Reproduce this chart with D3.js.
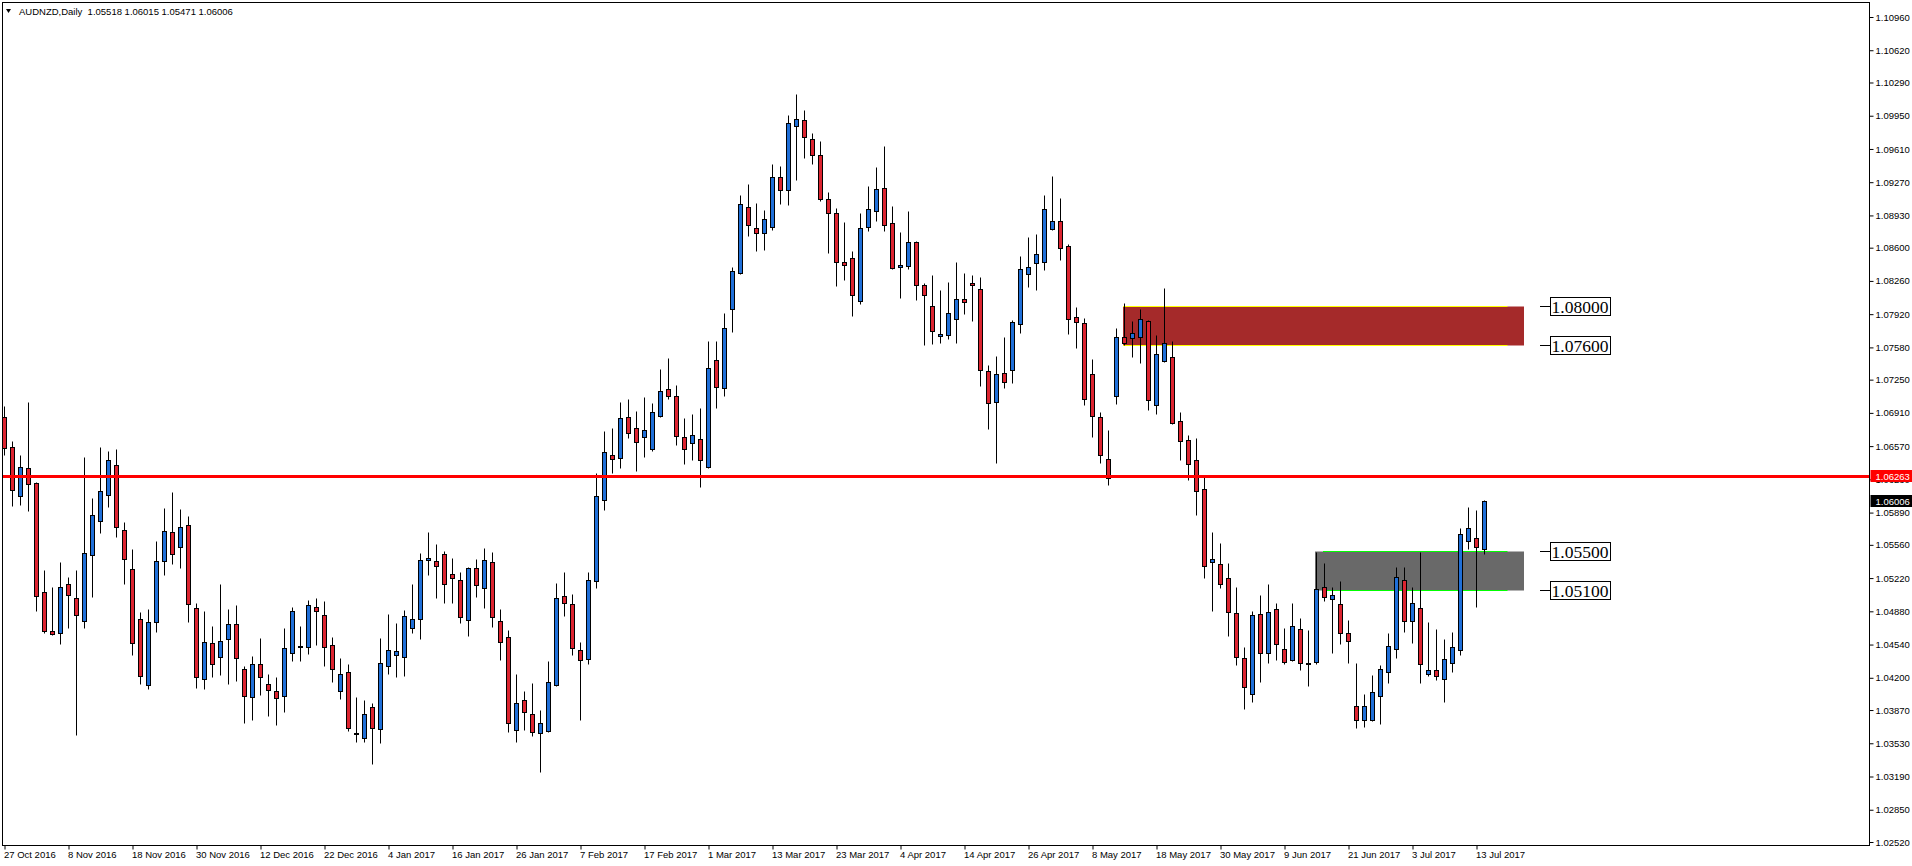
<!DOCTYPE html>
<html>
<head>
<meta charset="utf-8">
<title>AUDNZD Daily</title>
<script src="https://cdnjs.cloudflare.com/ajax/libs/d3/7.8.5/d3.min.js"></script>
<style>
  html, body { margin: 0; padding: 0; background: #fff; }
  svg { display: block; }
  text { font-family: "Liberation Sans", Arial, sans-serif; }
</style>
</head>
<body>
<svg id="chart" width="1912" height="866"></svg>
<script>
// chart title and the OHLC of the last bar, as printed top-left
var symbolTitle = "AUDNZD,Daily";
var lastBarText = ["1.05518", "1.06015", "1.05471", "1.06006"];

// daily bars, 27 Oct 2016 .. 14 Jul 2017
var open = [
  1.0687,1.0656,1.0606,1.0635,1.0619,1.0508,1.0468,1.0466,1.0516,1.0502,
  1.0478,1.0546,1.0580,1.0607,1.0638,1.0571,1.0531,1.0480,1.0413,1.0477,
  1.0539,1.0569,1.0554,1.0576,1.0491,1.0419,1.0456,1.0441,1.0460,1.0475,
  1.0429,1.0400,1.0434,1.0414,1.0406,1.0401,1.0445,1.0453,1.0452,1.0492,
  1.0484,1.0454,1.0406,1.0426,1.0364,1.0358,1.0390,1.0368,1.0432,1.0443,
  1.0441,1.0471,1.0480,1.0541,1.0539,1.0547,1.0526,1.0520,1.0479,1.0532,
  1.0512,1.0538,1.0478,1.0462,1.0367,1.0397,1.0383,1.0364,1.0366,1.0413,
  1.0504,1.0495,1.0448,1.0439,1.0519,1.0602,1.0648,1.0645,1.0687,1.0676,
  1.0666,1.0654,1.0688,1.0715,1.0708,1.0666,1.0660,1.0664,1.0636,1.0745,
  1.0716,1.0797,1.0834,1.0902,1.0880,1.0875,1.0881,1.0932,1.0919,1.0985,
  1.0991,1.0971,1.0955,1.0910,1.0895,1.0845,1.0849,1.0805,1.0881,1.0898,
  1.0921,1.0885,1.0840,1.0841,1.0866,1.0822,1.0800,1.0770,1.0771,1.0787,
  1.0808,1.0824,1.0818,1.0734,1.0702,1.0732,1.0735,1.0782,1.0833,1.0844,
  1.0845,1.0879,1.0887,1.0862,1.0789,1.0783,1.0731,1.0687,1.0644,1.0708,
  1.0769,1.0768,1.0769,1.0785,1.0699,1.0744,1.0748,1.0683,1.0663,1.0643,
  1.0613,1.0538,1.0536,1.0522,1.0486,1.0440,1.0403,1.0485,1.0445,1.0490,
  1.0449,1.0438,1.0470,1.0435,1.0436,1.0513,1.0501,1.0495,1.0466,1.0391,
  1.0377,1.0377,1.0401,1.0426,1.0449,1.0520,1.0478,1.0491,1.0424,1.0428,
  1.0419,1.0435,1.0448,1.0560,1.0563,1.05518
];
var high = [
  1.0698,1.0662,1.0648,1.0702,1.0620,1.0530,1.0513,1.0538,1.0523,1.0530,
  1.0646,1.0604,1.0656,1.0652,1.0654,1.0579,1.0552,1.0487,1.0490,1.0560,
  1.0594,1.0610,1.0593,1.0586,1.0497,1.0488,1.0473,1.0516,1.0490,1.0494,
  1.0432,1.0442,1.0461,1.0424,1.0421,1.0471,1.0492,1.0473,1.0500,1.0502,
  1.0499,1.0462,1.0440,1.0434,1.0400,1.0397,1.0394,1.0461,1.0485,1.0476,
  1.0489,1.0516,1.0548,1.0569,1.0557,1.0550,1.0543,1.0528,1.0533,1.0542,
  1.0553,1.0549,1.0490,1.0469,1.0424,1.0406,1.0415,1.0387,1.0437,1.0517,
  1.0528,1.0506,1.0457,1.0528,1.0629,1.0672,1.0676,1.0702,1.0705,1.0693,
  1.0707,1.0701,1.0736,1.0747,1.0720,1.0686,1.0690,1.0696,1.0765,1.0765,
  1.0793,1.0840,1.0914,1.0925,1.0906,1.0899,1.0946,1.0944,1.0996,1.1017,
  1.1001,1.0977,1.0969,1.0917,1.0901,1.0886,1.0857,1.0895,1.0923,1.0943,
  1.0964,1.0903,1.0876,1.0898,1.0867,1.0824,1.0832,1.0817,1.0825,1.0845,
  1.0834,1.0832,1.0830,1.0740,1.0749,1.0769,1.0786,1.0852,1.0871,1.0874,
  1.0914,1.0933,1.0911,1.0864,1.0799,1.0788,1.0746,1.0692,1.0674,1.0778,
  1.0803,1.0785,1.0797,1.0786,1.0771,1.0819,1.0765,1.0692,1.0668,1.0665,
  1.0625,1.0569,1.0558,1.0537,1.0513,1.0451,1.0488,1.0505,1.0516,1.0496,
  1.0471,1.0496,1.0481,1.0469,1.0549,1.0537,1.0513,1.0519,1.0479,1.0435,
  1.0403,1.0423,1.0433,1.0466,1.0533,1.0533,1.0513,1.0549,1.0477,1.0470,
  1.0460,1.0467,1.0573,1.0595,1.0592,1.06015
];
var low = [
  1.0648,1.0596,1.0597,1.0591,1.0488,1.0466,1.0464,1.0455,1.0471,1.0361,
  1.0471,1.0503,1.0568,1.0595,1.0564,1.0516,1.0443,1.0414,1.0409,1.0467,
  1.0525,1.0536,1.0532,1.0477,1.0410,1.0409,1.0421,1.0423,1.0414,1.0417,
  1.0374,1.0377,1.0402,1.0381,1.0372,1.0385,1.0437,1.0437,1.0444,1.0454,
  1.0432,1.0416,1.0398,1.0366,1.0354,1.0354,1.0332,1.0353,1.0424,1.0421,
  1.0422,1.0466,1.0460,1.0525,1.0502,1.0497,1.0496,1.0476,1.0463,1.0503,
  1.0491,1.0472,1.0438,1.0365,1.0354,1.0367,1.0360,1.0324,1.0365,1.0412,
  1.0483,1.0443,1.0377,1.0434,1.0512,1.0592,1.0630,1.0635,1.0665,1.0632,
  1.0646,1.0652,1.0687,1.0705,1.0658,1.0639,1.0643,1.0615,1.0635,1.0696,
  1.0708,1.0774,1.0833,1.0872,1.0857,1.0858,1.0878,1.0905,1.0904,1.0929,
  1.0952,1.0946,1.0908,1.0855,1.0821,1.0827,1.0790,1.0802,1.0877,1.0887,
  1.0877,1.0838,1.0809,1.0838,1.0806,1.0760,1.0761,1.0762,1.0767,1.0763,
  1.0792,1.0785,1.0718,1.0675,1.0640,1.0716,1.0722,1.0773,1.0820,1.0817,
  1.0837,1.0878,1.0847,1.0772,1.0757,1.0699,1.0666,1.0640,1.0617,1.0700,
  1.0760,1.0748,1.0742,1.0694,1.0690,1.0743,1.0680,1.0643,1.0622,1.0587,
  1.0522,1.0488,1.0512,1.0463,1.0433,1.0388,1.0395,1.0416,1.0435,1.0438,
  1.0434,1.0437,1.0428,1.0412,1.0434,1.0499,1.0445,1.0455,1.0435,1.0369,
  1.0370,1.0376,1.0373,1.0415,1.0440,1.0467,1.0456,1.0415,1.0422,1.0418,
  1.0395,1.0426,1.0443,1.0552,1.0492,1.05471
];
var close = [
  1.0655,1.0612,1.0636,1.0618,1.0504,1.0468,1.0465,1.0513,1.0505,1.0484,
  1.0548,1.0587,1.0611,1.0643,1.0574,1.0542,1.0456,1.0422,1.0477,1.0539,
  1.0570,1.0547,1.0574,1.0495,1.0421,1.0457,1.0434,1.0458,1.0475,1.0440,
  1.0401,1.0434,1.0421,1.0408,1.0399,1.0450,1.0488,1.0453,1.0494,1.0488,
  1.0452,1.0429,1.0424,1.0369,1.0364,1.0383,1.0369,1.0435,1.0448,1.0447,
  1.0483,1.0480,1.0541,1.0543,1.0534,1.0516,1.0522,1.0482,1.0532,1.0515,
  1.0540,1.0482,1.0457,1.0374,1.0394,1.0385,1.0365,1.0374,1.0416,1.0502,
  1.0497,1.0450,1.0438,1.0520,1.0606,1.0651,1.0644,1.0686,1.0670,1.0661,
  1.0673,1.0692,1.0713,1.0708,1.0667,1.0654,1.0668,1.0643,1.0737,1.0717,
  1.0778,1.0836,1.0905,1.0883,1.0875,1.0889,1.0932,1.0919,1.0988,1.0992,
  1.0973,1.0955,1.0910,1.0895,1.0845,1.0842,1.0812,1.0880,1.0900,1.0920,
  1.0883,1.0839,1.0842,1.0866,1.0822,1.0812,1.0775,1.0772,1.0793,1.0807,
  1.0804,1.0822,1.0735,1.0701,1.0731,1.0723,1.0784,1.0838,1.0840,1.0854,
  1.0900,1.0887,1.0860,1.0787,1.0784,1.0705,1.0688,1.0648,1.0624,1.0769,
  1.0762,1.0773,1.0787,1.0704,1.0751,1.0763,1.0681,1.0662,1.0639,1.0611,
  1.0534,1.0542,1.0516,1.0487,1.0441,1.0411,1.0484,1.0445,1.0487,1.0455,
  1.0436,1.0473,1.0435,1.0434,1.0511,1.0503,1.0505,1.0466,1.0458,1.0377,
  1.0391,1.0405,1.0429,1.0453,1.0523,1.0478,1.0497,1.0434,1.0428,1.0422,
  1.0439,1.0451,1.0567,1.0573,1.0554,1.06006
];

// price scale labels on the right
var priceTicks = [
  1.10960,1.10620,1.10290,1.09950,1.09610,1.09270,1.08930,1.08600,1.08260,
  1.07920,1.07580,1.07250,1.06910,1.06570,1.06230,1.05890,1.05560,1.05220,
  1.04880,1.04540,1.04200,1.03870,1.03530,1.03190,1.02850,1.02520
];

// time scale labels, one every 8 bars
var dateLabels = [
  "27 Oct 2016","8 Nov 2016","18 Nov 2016","30 Nov 2016","12 Dec 2016",
  "22 Dec 2016","4 Jan 2017","16 Jan 2017","26 Jan 2017","7 Feb 2017",
  "17 Feb 2017","1 Mar 2017","13 Mar 2017","23 Mar 2017","4 Apr 2017",
  "14 Apr 2017","26 Apr 2017","8 May 2017","18 May 2017","30 May 2017",
  "9 Jun 2017","21 Jun 2017","3 Jul 2017","13 Jul 2017"
];
var barsPerLabel = 8;

// horizontal level and the two zones drawn on the chart
var keyLevel = 1.06263;
var zoneTop = [1.0800, 1.0550];
var zoneBottom = [1.0760, 1.0510];
var zoneStartBar = [140, 164];
var zoneLabels = ["1.08000", "1.07600", "1.05500", "1.05100"];
var zoneLabelValues = [1.0800, 1.0760, 1.0550, 1.0510];


(function () {
  'use strict';

  var svg = d3.select('#chart');

  // plot frame
  var left = 2.5, top = 2.5, right = 1869.5, bottom = 845.5;

  var x = d3.scaleLinear().domain([0, 185]).range([4.5, 1484.5]);
  var y = d3.scaleLinear().domain([1.10960, 1.02520]).range([17, 842]);
  var py = function (v) { return Math.round(y(v)) + 0.5; };

  var bars = d3.range(open.length).map(function (i) {
    return { i: i, o: open[i], h: high[i], l: low[i], c: close[i] };
  });

  svg.append('defs').append('clipPath').attr('id', 'plotClip')
    .append('rect')
    .attr('x', left).attr('y', top)
    .attr('width', right - left).attr('height', bottom - top);

  var plot = svg.append('g').attr('clip-path', 'url(#plotClip)');

  /* zones (drawn behind the bars)
  ================================ */
  var zoneFill = ['#a52a2a', '#696969'];
  var zoneLine = ['#ffff00', '#00ff00'];
  var lineShift = [0, 1];   // the green lines start one bar later

  zoneTop.forEach(function (t, k) {
    var x0 = x(zoneStartBar[k]) - 1.5;
    var x1 = x(190) - 0.5;
    plot.append('rect')
      .attr('x', x0).attr('y', py(t))
      .attr('width', x1 - x0).attr('height', py(zoneBottom[k]) - py(t))
      .attr('fill', zoneFill[k]);

    [t, zoneBottom[k]].forEach(function (v) {
      plot.append('line')
        .attr('x1', x(zoneStartBar[k] + lineShift[k]) - 1.5).attr('x2', x(188) - 1)
        .attr('y1', py(v)).attr('y2', py(v))
        .attr('stroke', zoneLine[k]).attr('stroke-width', 1);
    });
  });

  /* candles
  ================================ */
  var candle = plot.selectAll('g.bar')
    .data(bars)
    .enter()
    .append('g')
    .attr('class', 'bar');

  candle.append('line')
    .attr('x1', function (d) { return x(d.i); })
    .attr('x2', function (d) { return x(d.i); })
    .attr('y1', function (d) { return py(d.h); })
    .attr('y2', function (d) { return py(d.l); })
    .attr('stroke', '#000')
    .attr('stroke-width', 1);

  candle.append('rect')
    .attr('x', function (d) { return x(d.i) - 2; })
    .attr('width', 4)
    .attr('y', function (d) { return Math.min(py(d.o), py(d.c)); })
    .attr('height', function (d) { return Math.max(1, Math.abs(py(d.o) - py(d.c))); })
    .attr('fill', function (d) { return d.c >= d.o ? '#1f6fd8' : '#dc2430'; })
    .attr('stroke', '#000')
    .attr('stroke-width', 1);

  // red level line on top of the bars
  plot.append('line')
    .attr('x1', left).attr('x2', right)
    .attr('y1', Math.round(y(keyLevel)) + 0.5).attr('y2', Math.round(y(keyLevel)) + 0.5)
    .attr('stroke', '#ff0000')
    .attr('stroke-width', 3);

  /* zone price labels
  ================================ */
  zoneLabelValues.forEach(function (v, k) {
    var yy = py(v);
    var lx = x(192);
    svg.append('line')
      .attr('x1', lx - 0.5).attr('x2', lx + 10)
      .attr('y1', yy).attr('y2', yy)
      .attr('stroke', '#000');
    svg.append('rect')
      .attr('x', lx + 10).attr('y', yy - 9)
      .attr('width', 60).attr('height', 18)
      .attr('fill', '#fff').attr('stroke', '#000');
    svg.append('text')
      .attr('x', lx + 11).attr('y', yy + 6.5)
      .style('font-family', '"Liberation Serif", "Times New Roman", serif')
      .style('font-size', '17.5px')
      .text(zoneLabels[k]);
  });

  /* frame
  ================================ */
  svg.append('rect')
    .attr('x', left).attr('y', top)
    .attr('width', right - left).attr('height', bottom - top)
    .attr('fill', 'none').attr('stroke', '#000');

  /* price axis
  ================================ */
  var yAxis = d3.axisRight(y)
    .tickValues(priceTicks)
    .tickSize(4)
    .tickPadding(2)
    .tickFormat(d3.format('.5f'));

  var ya = svg.append('g')
    .attr('transform', 'translate(' + right + ',0)')
    .call(yAxis);
  ya.select('.domain').remove();
  ya.selectAll('text').style('font-size', '9.5px').style('font-family', '"Liberation Sans", Arial, sans-serif');

  // level tag and last price tag on the axis
  var tags = [
    { v: keyLevel, fill: '#ff0000', txt: d3.format('.5f')(keyLevel) },
    { v: +lastBarText[3], fill: '#000', txt: lastBarText[3] }
  ];
  tags.forEach(function (t) {
    var yy = Math.round(y(t.v));
    svg.append('rect')
      .attr('x', right + 1).attr('y', yy - 6)
      .attr('width', 1912 - right).attr('height', 12)
      .attr('fill', t.fill);
    svg.append('text')
      .attr('x', right + 6).attr('y', yy + 3.5)
      .attr('fill', '#fff')
      .style('font-size', '9.5px')
      .text(t.txt);
  });

  /* time axis
  ================================ */
  var xAxis = d3.axisBottom(x)
    .tickValues(dateLabels.map(function (d, k) { return k * barsPerLabel; }))
    .tickSize(4)
    .tickPadding(2)
    .tickFormat(function (d) { return dateLabels[d / barsPerLabel]; });

  var xa = svg.append('g')
    .attr('transform', 'translate(0,' + bottom + ')')
    .call(xAxis);
  xa.select('.domain').remove();
  xa.selectAll('text')
    .attr('text-anchor', 'start')
    .attr('x', -1)
    .style('font-size', '9.5px')
    .style('font-family', '"Liberation Sans", Arial, sans-serif');

  /* header
  ================================ */
  svg.append('path')
    .attr('d', 'M6,9 L11,9 L8.5,13 Z')
    .attr('fill', '#000');
  svg.append('text')
    .attr('x', 19).attr('y', 14.5)
    .style('font-size', '9.5px')
    .attr('xml:space', 'preserve')
    .text(symbolTitle + '  ' + lastBarText.join(' '));

})();
</script>
</body>
</html>
